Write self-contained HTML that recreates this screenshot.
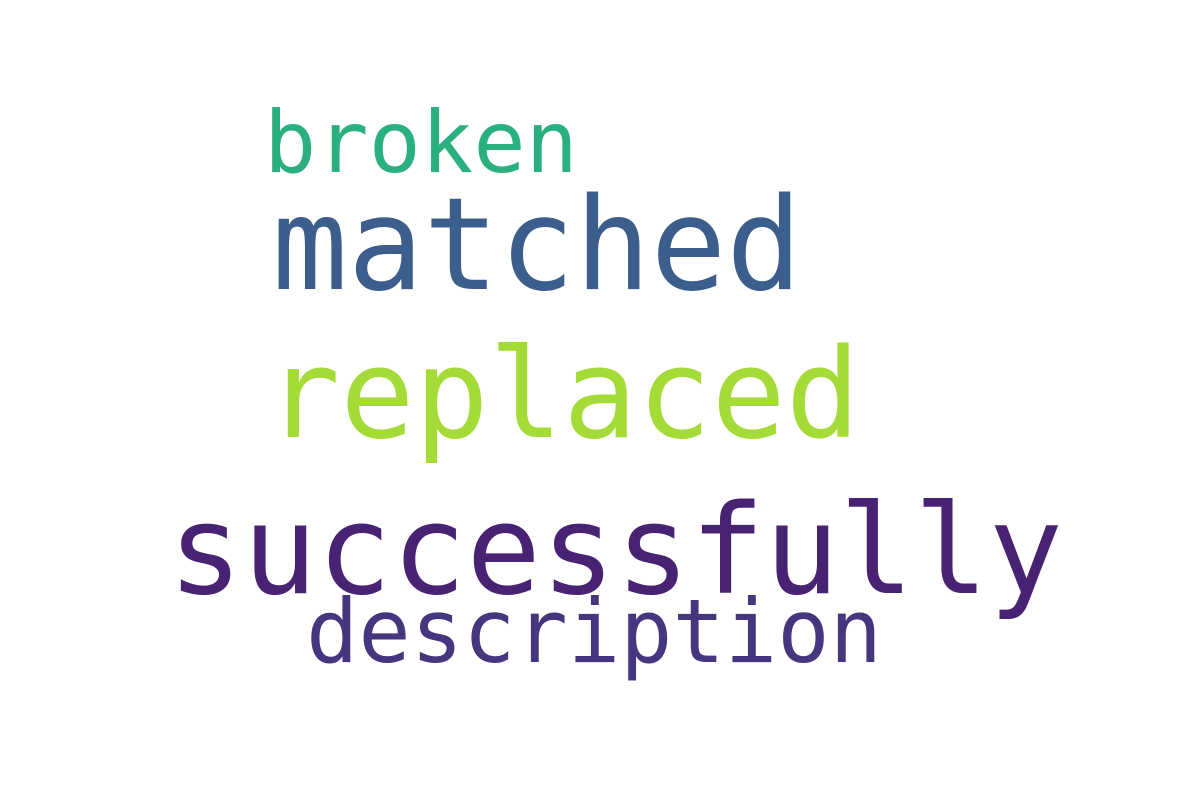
<!DOCTYPE html>
<html><head><meta charset="utf-8"><style>html,body{margin:0;padding:0;background:#fff}svg{display:block}text{font-family:"DejaVu Sans Mono","Liberation Mono",monospace}</style></head>
<body>
<svg width="1200" height="800" viewBox="0 0 1200 800">
<rect width="1200" height="800" fill="#fff"/>
<text x="264" y="172" font-size="86" fill="#2ab07f" textLength="314" lengthAdjust="spacingAndGlyphs">broken</text>
<text x="272" y="289" font-size="128" fill="#3b5e8c" textLength="530" lengthAdjust="spacingAndGlyphs">matched</text>
<text x="266" y="437" font-size="124" fill="#a5db36" textLength="594" lengthAdjust="spacingAndGlyphs">replaced</text>
<text x="168" y="593" font-size="124" fill="#482273" textLength="895" lengthAdjust="spacingAndGlyphs">successfully</text>
<text x="306" y="662" font-size="88" fill="#46357f" textLength="576" lengthAdjust="spacingAndGlyphs">description</text>
</svg>
</body></html>
